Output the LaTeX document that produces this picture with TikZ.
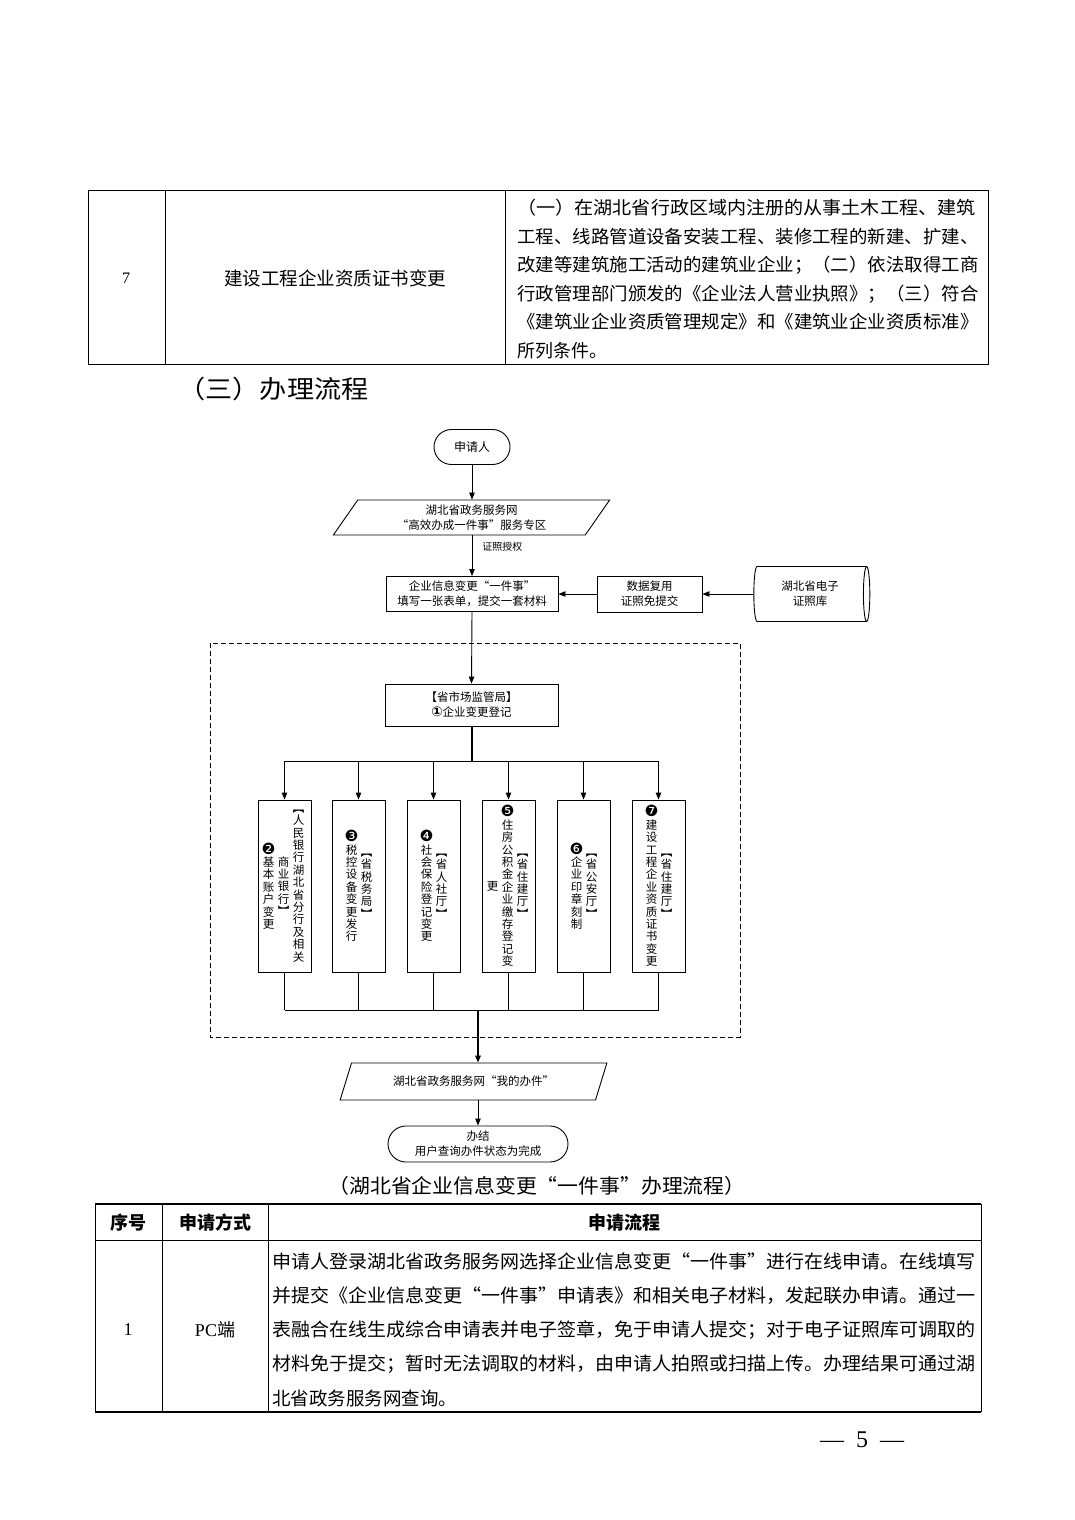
\documentclass[tikz,border=0pt]{standalone}
\usepackage{fontspec}
\usepackage{graphicx}
\setmainfont{Noto Sans CJK SC}
\newfontfamily\serifl{Liberation Serif}
\newfontfamily\djv{DejaVu Sans}
\usetikzlibrary{arrows.meta,shapes.geometric,shapes.misc}
\newcommand\fs[2]{\fontsize{#1}{#2}\selectfont}
\newcommand\jl[2]{\resizebox{#1}{\height}{#2}}
\newcommand\vtxt[1]{\vbox{\baselineskip=12.4pt\lineskiplimit=-20pt\lineskip=0pt\vtaux#1\relax}}
\def\vtaux#1{\ifx\relax#1\else\hbox to 12pt{\hss#1\hss}\expandafter\vtaux\fi}
\newcommand\cn[1]{{\djv\fontsize{15.5}{12}\selectfont #1}}
\newcommand\cno[1]{{\djv\bfseries\fontsize{13.5}{12}\selectfont #1}}
\begin{document}
\begin{tikzpicture}[x=1pt,y=-1pt, line width=0.9pt,
 every node/.style={inner sep=0pt},
 arr/.style={-{Triangle[length=7pt,width=5.5pt]}},
 fbox/.style={draw, rectangle, align=center, font=\fs{11.5}{15}},
 term/.style={draw, rounded rectangle, align=center, font=\fs{11.5}{15}},
 para/.style={draw, trapezium, trapezium stretches=true, align=center, font=\fs{11.5}{15}},
 vbox/.style={draw, rectangle, minimum width=53pt, minimum height=172pt},
 vt/.style={font=\fs{11.5}{12.4}},
 tline/.style={line width=1pt},
 dashbox/.style={dash pattern=on 5pt off 3pt, line width=0.9pt},
 ttext/.style={font=\fs{18}{22}, anchor=west},
 btext/.style={font=\fs{18.5}{22}, anchor=west}
]
\useasboundingbox (0,0) rectangle (1074,1520);
\fill[white] (0,0) rectangle (1074,1520);

% ---------- top table ----------
\draw[tline] (88,190) rectangle (988,364);
\draw[tline] (165,190) -- (165,364);
\draw[tline] (505,190) -- (505,364);
\node[font=\serifl\fs{16}{18}] (t7) at (126,278) {7};
\node[font=\fs{18.5}{22}] (tname) at (335,278) {建设工程企业资质证书变更};
\node[ttext] (tl1) at (517,208) {\jl{458pt}{（一）在湖北省行政区域内注册的从事土木工程、建筑}};
\node[ttext] (tl2) at (517,237) {\jl{461pt}{工程、线路管道设备安装工程、装修工程的新建、扩建、}};
\node[ttext] (tl3) at (517,265) {\jl{461pt}{改建等建筑施工活动的建筑业企业；（二）依法取得工商}};
\node[ttext] (tl4) at (517,294) {\jl{461pt}{行政管理部门颁发的《企业法人营业执照》；（三）符合}};
\node[ttext] (tl5) at (517,322) {\jl{461pt}{《建筑业企业资质管理规定》和《建筑业企业资质标准》}};
\node[ttext] (tl6) at (517,351) {所列条件。};

% ---------- heading ----------
\node[font=\fs{25}{28}, anchor=west] (head) at (178,389) {\jl{190pt}{（三）办理流程}};

% ---------- flowchart ----------
\node[term, minimum width=76pt, minimum height=35pt, font=\fs{12}{14}] (app) at (472,447) {申请人};
\node[para, trapezium left angle=58, trapezium right angle=122, minimum width=277pt, minimum height=35pt] (p1) at (471.5,517.5) {湖北省政务服务网\\“高效办成一件事”服务专区};
\node[fbox, minimum width=172pt, minimum height=35pt] (form) at (472,594) {企业信息变更“一件事”\\填写一张表单，提交一套材料};
\node[fbox, minimum width=105pt, minimum height=36pt] (reuse) at (649.5,594) {数据复用\\证照免提交};
\node[draw, cylinder, aspect=0.25, minimum height=116pt, minimum width=55pt, align=center, font=\fs{11.5}{15}] (cyl) at (810,594) {湖北省电子\\证照库};
\node[font=\fs{10}{12}, anchor=west] (lbl) at (482,547) {证照授权};

\draw[dashbox] (210,643) rectangle (740,1037);

\node[fbox, minimum width=173pt, minimum height=42pt] (smj) at (471.5,705) {【省市场监管局】\\\cno{①}企业变更登记};

\node[vbox] (b1) at (284.5,886) {};
\node[vbox] (b2) at (358.5,886) {};
\node[vbox] (b3) at (433.5,886) {};
\node[vbox] (b4) at (508.5,886) {};
\node[vbox] (b5) at (583.5,886) {};
\node[vbox] (b6) at (658.5,886) {};

\node[vt, xshift=14pt] (c1a) at (b1.center) {\vtxt{︻人民银行湖北省分行及相关}};
\node[vt, xshift=-1pt] (c1b) at (b1.center) {\vtxt{商业银行︼}};
\node[vt, xshift=-16pt] (c1c) at (b1.center) {\vtxt{{\cn{❷}}基本账户变更}};
\node[vt, xshift=8pt] (c2a) at (b2.center) {\vtxt{︻省税务局︼}};
\node[vt, xshift=-7pt] (c2b) at (b2.center) {\vtxt{{\cn{❸}}税控设备变更发行}};
\node[vt, xshift=8pt] (c3a) at (b3.center) {\vtxt{︻省人社厅︼}};
\node[vt, xshift=-7pt] (c3b) at (b3.center) {\vtxt{{\cn{❹}}社会保险登记变更}};
\node[vt, xshift=14pt] (c4a) at (b4.center) {\vtxt{︻省住建厅︼}};
\node[vt, xshift=-1pt] (c4b) at (b4.center) {\vtxt{{\cn{❺}}住房公积金企业缴存登记变}};
\node[vt, xshift=-16pt] (c4c) at (b4.center) {\vtxt{更}};
\node[vt, xshift=8pt] (c5a) at (b5.center) {\vtxt{︻省公安厅︼}};
\node[vt, xshift=-7pt] (c5b) at (b5.center) {\vtxt{{\cn{❻}}企业印章刻制}};
\node[vt, xshift=8pt] (c6a) at (b6.center) {\vtxt{︻省住建厅︼}};
\node[vt, xshift=-7pt] (c6b) at (b6.center) {\vtxt{{\cn{❼}}建设工程企业资质证书变更}};

\node[para, trapezium left angle=55, trapezium right angle=125, minimum width=267pt, minimum height=37pt] (p2) at (473.5,1081.5) {湖北省政务服务网“我的办件”};
\node[term, minimum width=180pt, minimum height=36pt] (done) at (478,1144) {办结\\用户查询办件状态为完成};

\coordinate (tb) at (471.5,761);
\coordinate (bb) at (478,1010);

% connectors
\draw[arr] (app.south) -- (app.south |- p1.north);
\draw[arr] (form.north |- p1.south) -- (form.north);
\draw[arr] (cyl.west) -- (reuse.east);
\draw[arr] (reuse.west) -- (form.east);
\draw[arr] (form.south) -- (smj.north);
\draw[line width=2pt] (smj.south) -- (tb);
\draw (b1.north |- tb) -- (b6.north |- tb);
\foreach \i in {1,...,6} {\draw[arr] (b\i.north |- tb) -- (b\i.north);}
\foreach \i in {1,...,6} {\draw (b\i.south) -- (b\i.south |- bb);}
\draw (b1.south |- bb) -- (b6.south |- bb);
\draw[arr, line width=1.6pt] (bb) -- (bb |- p2.north);
\draw[arr] (done.north |- p2.south) -- (done.north);

% ---------- caption ----------
\node[font=\fs{20}{24}, anchor=west] (cap) at (328,1186) {\jl{417pt}{（湖北省企业信息变更“一件事”办理流程）}};

% ---------- bottom table ----------
\draw[line width=1.4pt] (95,1204) -- (981,1204);
\draw[tline] (95,1240) -- (981,1240);
\draw[line width=1.6pt] (95,1412) -- (981,1412);
\draw[tline] (95,1204) -- (95,1412);
\draw[tline] (981,1204) -- (981,1412);
\draw[tline] (162,1204) -- (162,1412);
\draw[tline] (268,1204) -- (268,1412);
\node[font=\bfseries\fs{18}{22}] (h1) at (128,1223) {序号};
\node[font=\bfseries\fs{18}{22}] (h2) at (215,1223) {申请方式};
\node[font=\bfseries\fs{18}{22}] (h3) at (624,1223) {申请流程};
\node[font=\serifl\fs{18}{22}] (r1) at (128,1330) {1};
\node[font=\fs{18}{22}] (r2) at (215,1330) {{\serifl PC}端};
\node[btext] (bl1) at (272,1261) {\jl{703pt}{申请人登录湖北省政务服务网选择企业信息变更“一件事”进行在线申请。在线填写}};
\node[btext] (bl2) at (272,1296) {\jl{703pt}{并提交《企业信息变更“一件事”申请表》和相关电子材料，发起联办申请。通过一}};
\node[btext] (bl3) at (272,1330) {\jl{703pt}{表融合在线生成综合申请表并电子签章，免于申请人提交；对于电子证照库可调取的}};
\node[btext] (bl4) at (272,1364) {\jl{703pt}{材料免于提交；暂时无法调取的材料，由申请人拍照或扫描上传。办理结果可通过湖}};
\node[btext] (bl5) at (272,1398) {北省政务服务网查询。};

% ---------- page number ----------
\node[font=\serifl\fs{24}{28}] (pg) at (862,1440) {—\hspace{12pt}5\hspace{12pt}—};
\end{tikzpicture}
\end{document}
